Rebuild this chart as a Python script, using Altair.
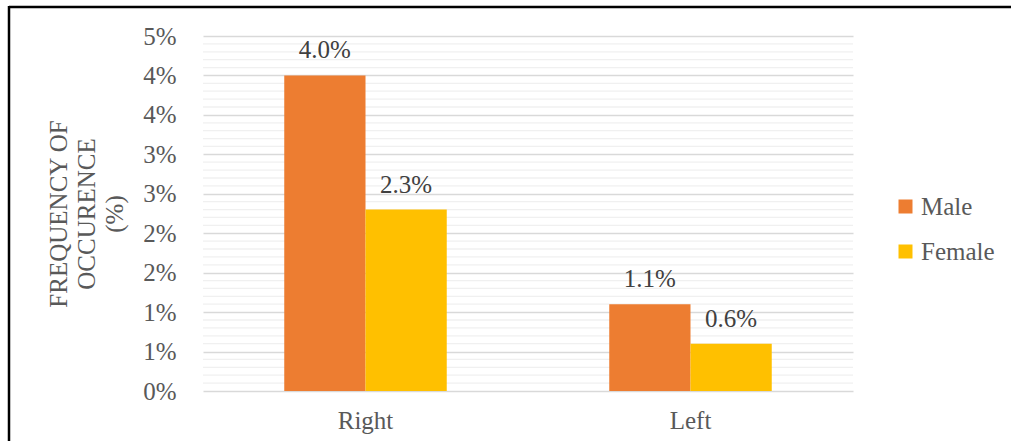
import altair as alt
import pandas as pd

# Side occurrence by sex
sides = ["Right", "Left"]
male = [0.040, 0.011]
female = [0.023, 0.006]
sexes = ["Male", "Female"]
sex_colors = ["#ED7D31", "#FFC000"]
major_ticks = [0.0, 0.005, 0.010, 0.015, 0.020, 0.025, 0.030, 0.035, 0.040, 0.045]
minor_ticks = [0.001, 0.002, 0.003, 0.004, 0.006, 0.007, 0.008, 0.009,
               0.011, 0.012, 0.013, 0.014, 0.016, 0.017, 0.018, 0.019,
               0.021, 0.022, 0.023, 0.024, 0.026, 0.027, 0.028, 0.029,
               0.031, 0.032, 0.033, 0.034, 0.036, 0.037, 0.038, 0.039,
               0.041, 0.042, 0.043, 0.044]

rows = []
for i, side in enumerate(sides):
    rows.append({"side": side, "sex": "Male", "value": male[i]})
    rows.append({"side": side, "sex": "Female", "value": female[i]})
df = pd.DataFrame(rows)

FONT = "Liberation Serif"
FS = 25
W, H = 650, 355

y_scale = alt.Scale(domain=[0, 0.045], nice=False)


def y_axis():
    return alt.Axis(
        values=major_ticks,
        format=".0%",
        labelOverlap=False,
        title=["FREQUENCY OF", "OCCURENCE", "(%)"],
        titleFont=FONT, titleFontSize=25, titleFontWeight="normal",
        titleColor="#595959", titleLineHeight=28, titlePadding=15,
        labelFont=FONT, labelFontSize=FS, labelColor="#595959",
        labelPadding=27, ticks=False, domain=False,
        gridColor="#D9D9D9", gridWidth=1.5,
    )


x_enc = alt.X(
    "side:N",
    sort=sides,
    scale=alt.Scale(paddingInner=0.5, paddingOuter=0.25),
    axis=alt.Axis(title=None, labelAngle=0, labelFontSize=FS, labelColor="#595959",
                  labelFont=FONT, ticks=False, domain=False, grid=False, labelPadding=17),
)
off_enc = alt.XOffset("sex:N", sort=sexes, scale=alt.Scale(paddingInner=0, paddingOuter=0))

base = alt.Chart(df)

# light minor gridlines every 0.1%
minor = alt.Chart(pd.DataFrame({"v": minor_ticks})).mark_rule(
    color="#F0F0F0", strokeWidth=1.3
).encode(y=alt.Y("v:Q", scale=y_scale, axis=y_axis()))

bars = base.mark_bar().encode(
    x=x_enc,
    xOffset=off_enc,
    y=alt.Y("value:Q", scale=y_scale, axis=y_axis()),
    color=alt.Color(
        "sex:N",
        sort=sexes,
        scale=alt.Scale(domain=sexes, range=sex_colors),
        legend=alt.Legend(
            title=None, orient="none", legendX=690, legendY=158,
            symbolType="square", symbolSize=196, symbolStrokeWidth=0,
            labelFont=FONT, labelFontSize=FS, labelColor="#595959",
            rowPadding=19, labelOffset=3,
        ),
    ),
)

labels = base.mark_text(
    font=FONT, fontSize=FS, color="#404040", baseline="alphabetic", dy=-17
).encode(
    x=x_enc,
    xOffset=off_enc,
    y=alt.Y("value:Q", scale=y_scale, axis=y_axis()),
    text=alt.Text("value:Q", format=".1%"),
)

# outer frame: top and left edges
frame_top = alt.Chart(pd.DataFrame({"k": [0]})).mark_rule(
    color="#000000", strokeWidth=2.5, clip=False
).encode(x=alt.value(-194), x2=alt.value(808), y=alt.value(-29))
frame_left = alt.Chart(pd.DataFrame({"k": [0]})).mark_rule(
    color="#000000", strokeWidth=2.5, clip=False
).encode(x=alt.value(-194), y=alt.value(-30), y2=alt.value(420))

chart = (
    alt.layer(minor, bars, labels, frame_top, frame_left)
    .properties(
        width=W, height=H,
        autosize=alt.AutoSizeParams(type="none"),
        padding={"left": 203, "top": 36, "right": 159, "bottom": 50},
    )
    .configure(background="white", font=FONT)
    .configure_view(stroke="transparent", strokeWidth=0)
)

chart.save("out.html", embed_options={"renderer": "svg", "actions": False})
